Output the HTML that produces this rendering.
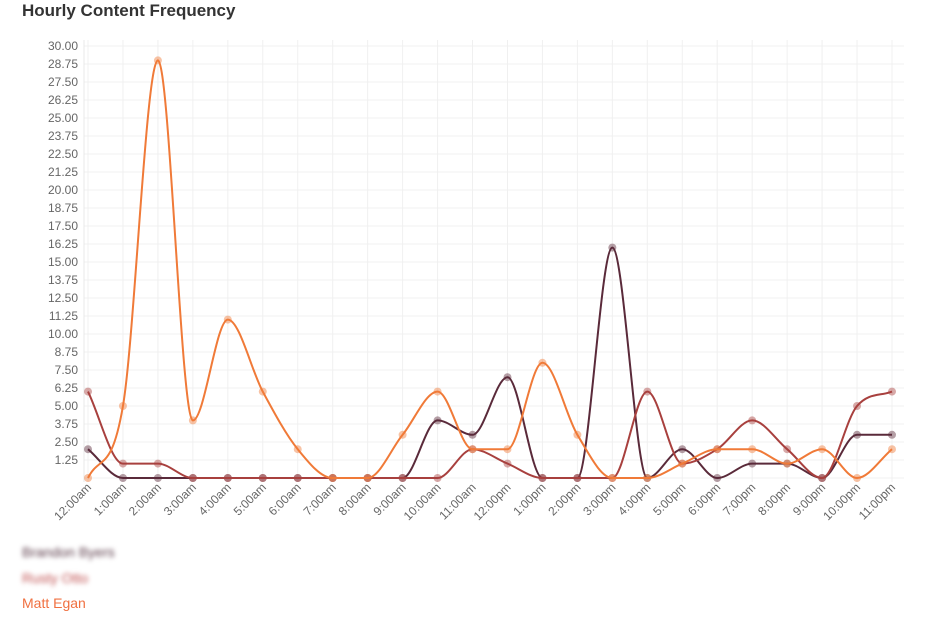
<!DOCTYPE html>
<html><head><meta charset="utf-8"><style>
body{margin:0;background:#fff;width:947px;height:625px;overflow:hidden;font-family:"Liberation Sans",sans-serif;}
h1{position:absolute;left:22px;top:1px;margin:0;font-size:17px;font-weight:bold;color:#333;}
.lg{position:absolute;left:22px;font-size:14px;}
</style></head><body>
<h1>Hourly Content Frequency</h1>
<svg id="c" width="947" height="540" style="position:absolute;left:0;top:0" xmlns="http://www.w3.org/2000/svg"></svg>
<div class="lg" style="top:544px;color:#5a3a48;filter:blur(2.5px)">Brandon Byers</div>
<div class="lg" style="top:570px;color:#c05050;filter:blur(2.5px)">Rusty Otto</div>
<div class="lg" style="top:595px;color:#f07040">Matt Egan</div>
<script>
var s=document.getElementById('c'),h='';
var x0=88,dx=(892-88)/23,y0=478,sy=18/1.25;
for(var i=0;i<=24;i++){var y=y0-i*18;h+='<line x1="84" x2="904" y1="'+y+'" y2="'+y+'" stroke="#f0f0f0"/>';
if(i>0)h+='<text x="78" y="'+(y+4)+'" text-anchor="end" font-size="12" fill="#666">'+(i*1.25).toFixed(2)+'</text>';}
h+='<line x1="84" x2="84" y1="40" y2="482" stroke="#e8e8e8"/>';
var L=[];for(var k=0;k<24;k++){var hr=k%12==0?12:k%12;L.push(hr+':00'+(k<12?'am':'pm'));}
for(var k=0;k<24;k++){var x=x0+k*dx;h+='<line x1="'+x+'" x2="'+x+'" y1="40" y2="482" stroke="#f0f0f0"/>';
h+='<text transform="translate('+(x+4)+',488) rotate(-45)" text-anchor="end" font-size="12" fill="#666">'+L[k]+'</text>';}
var D=[
['#5a2a3a',[2,0,0,0,0,0,0,0,0,0,4,3,7,0,0,16,0,2,0,1,1,0,3,3]],
['#a8403e',[6,1,1,0,0,0,0,0,0,0,0,2,1,0,0,0,6,1,2,4,2,0,5,6]],
['#f07a38',[0,5,29,4,11,6,2,0,0,3,6,2,2,8,3,0,0,1,2,2,1,2,0,2]]];
D.forEach(function(d){var P=d[1].map(function(v,i){return[x0+i*dx,y0-v*sy]});
var n=P.length,del=[],m=[];
for(var i=0;i<n-1;i++)del.push((P[i+1][1]-P[i][1])/dx);
for(var i=0;i<n;i++){if(i==0)m.push(del[0]);else if(i==n-1)m.push(del[n-2]);else{var a=del[i-1],b=del[i];m.push(a*b<=0?0:(a+b)/2);}}
for(var i=0;i<n-1;i++){if(del[i]==0){m[i]=0;m[i+1]=0;continue;}var al=m[i]/del[i],be=m[i+1]/del[i],t=al*al+be*be;if(t>9){var k=3/Math.sqrt(t);m[i]=k*al*del[i];m[i+1]=k*be*del[i];}}
var path='M'+P[0][0]+','+P[0][1];
for(var i=1;i<n;i++){var e=dx/3;path+=' C'+(P[i-1][0]+e)+','+(P[i-1][1]+m[i-1]*e)+' '+(P[i][0]-e)+','+(P[i][1]-m[i]*e)+' '+P[i][0]+','+P[i][1];}
P.forEach(function(p){h+='<circle cx="'+p[0]+'" cy="'+p[1]+'" r="4" fill="'+d[0]+'" fill-opacity="0.45"/>';});
h+='<path d="'+path+'" fill="none" stroke="'+d[0]+'" stroke-width="2"/>';});
s.innerHTML=h;
</script>
</body></html>
